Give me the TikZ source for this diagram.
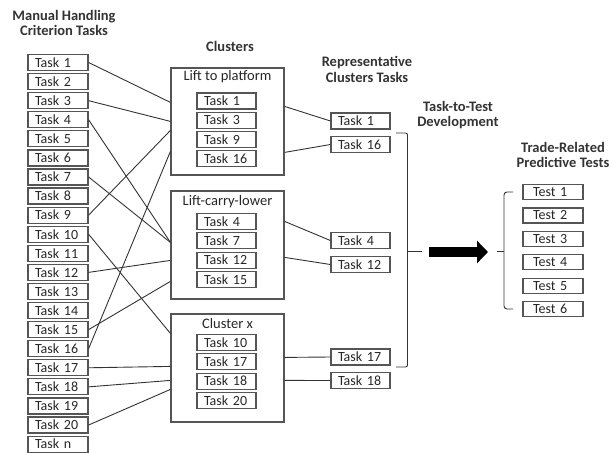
\documentclass[tikz,border=0pt]{standalone}
\usepackage{fontspec}
\setmainfont{Carlito}
\usetikzlibrary{positioning,arrows.meta}
\definecolor{boxgray}{HTML}{555555}
\definecolor{linegray}{HTML}{333333}

\begin{document}
\begin{tikzpicture}[x=1pt,y=-1pt,node distance=19.08pt,on grid,
    tbox/.style={draw=boxgray,line width=1.2pt,minimum height=16pt,text width=46pt,
      inner xsep=7pt,inner ysep=0pt,align=left,text=black!85,font=\fontsize{14}{14}\selectfont},
    clbox/.style={draw=boxgray,line width=1.2pt,minimum width=113pt,inner sep=0pt},
    cltitle/.style={text=black!85,font=\fontsize{14.5}{14.5}\selectfont},
    head/.style={align=center,text=black!80,font=\bfseries\fontsize{14.5}{15.5}\selectfont},
    link/.style={draw=linegray,line width=0.9pt}]
   \useasboundingbox (0,0) rectangle (609,452);

   % headers
   \node[head] (hcrit) at (64,23)   {Manual Handling\\Criterion Tasks};
   \node[head] (hclus) at (230,46)  {Clusters};
   \node[head] (hrep)  at (367,69.5) {Representative\\Clusters Tasks};
   \node[head] (hdev)  at (458,115) {Task-to-Test\\Development};
   \node[head] (htest) at (563,155) {Trade-Related\\Predictive Tests};

   % criterion tasks
   \node[tbox] (c1) at (58,62.5) {Task 1};
   \foreach \i [remember=\i as \j (initially 1)] in {2,...,20}
      \node[tbox] (c\i) [below=of c\j] {Task \i};
   \node[tbox] (cn) [below=of c20] {Task n};

   % clusters
   \node[clbox,minimum height=107pt] (lp) at (227.5,121.5) {};
   \node[cltitle] (lpt) at (227.5,77) {Lift to platform};
   \node[tbox,text width=45pt] (lp1) at (226.5,101) {Task 1};
   \node[tbox,text width=45pt,node distance=19.17pt] (lp3)  [below=of lp1] {Task 3};
   \node[tbox,text width=45pt,node distance=19.17pt] (lp9)  [below=of lp3] {Task 9};
   \node[tbox,text width=45pt,node distance=19.17pt] (lp16) [below=of lp9] {Task 16};

   \node[clbox,minimum height=108pt] (lcl) at (227.5,245) {};
   \node[cltitle] (lclt) at (227.5,202) {Lift-carry-lower};
   \node[tbox,text width=45pt] (lcl4) at (226.5,221.5) {Task 4};
   \node[tbox,text width=45pt,node distance=19.33pt] (lcl7)  [below=of lcl4] {Task 7};
   \node[tbox,text width=45pt,node distance=19.33pt] (lcl12) [below=of lcl7] {Task 12};
   \node[tbox,text width=45pt,node distance=19.33pt] (lcl15) [below=of lcl12] {Task 15};

   \node[clbox,minimum height=108pt] (clx) at (227.5,368) {};
   \node[cltitle] (clxt) at (227.5,324) {Cluster x};
   \node[tbox,text width=45pt] (clx10) at (226.5,342.5) {Task 10};
   \node[tbox,text width=45pt,node distance=19.33pt] (clx17) [below=of clx10] {Task 17};
   \node[tbox,text width=45pt,node distance=19.33pt] (clx18) [below=of clx17] {Task 18};
   \node[tbox,text width=45pt,node distance=19.33pt] (clx20) [below=of clx18] {Task 20};

   % representative tasks
   \node[tbox,text width=45pt] (r1)  at (360.5,121)   {Task 1};
   \node[tbox,text width=45pt] (r16) at (360.5,144.5) {Task 16};
   \node[tbox,text width=45pt] (r4)  at (360.5,240.5) {Task 4};
   \node[tbox,text width=45pt] (r12) at (360.5,264.5) {Task 12};
   \node[tbox,text width=45pt] (r17) at (360.5,357)   {Task 17};
   \node[tbox,text width=45pt] (r18) at (360.5,380.5) {Task 18};

   % predictive tests
   \node[tbox,text width=40pt,inner xsep=10pt,minimum height=15pt] (t1) at (553,192) {Test 1};
   \foreach \i [remember=\i as \j (initially 1)] in {2,...,6}
      \node[tbox,text width=40pt,inner xsep=10pt,minimum height=15pt,node distance=23.4pt]
         (t\i) [below=of t\j] {Test \i};

   % criterion tasks to clusters
   \draw[link] (c1.east)  -- ([yshift=-35pt]lp.north west);
   \draw[link] (c3.east)  -- ([yshift=-54pt]lp.north west);
   \draw[link] (c9.east)  -- ([yshift=-63pt]lp.north west);
   \draw[link] (c16.east) -- ([yshift=-84pt]lp.north west);
   \draw[link] (c4.east)  -- ([yshift=-52pt]lcl.north west);
   \draw[link] (c7.east)  -- ([yshift=-52pt]lcl.north west);
   \draw[link] (c12.east) -- ([yshift=-70pt]lcl.north west);
   \draw[link] (c15.east) -- ([yshift=-91pt]lcl.north west);
   \draw[link] (c10.east) -- ([yshift=-20pt]clx.north west);
   \draw[link] (c17.east) -- ([yshift=-53pt]clx.north west);
   \draw[link] (c18.east) -- ([yshift=-67pt]clx.north west);
   \draw[link] (c20.east) -- ([yshift=-76pt]clx.north west);

   % clusters to representative tasks
   \draw[link] ([yshift=-39pt]lp.north east)  -- (r1.west);
   \draw[link] ([yshift=-85pt]lp.north east)  -- (r16.west);
   \draw[link] ([yshift=-31pt]lcl.north east) -- (r4.west);
   \draw[link] ([yshift=-67pt]lcl.north east) -- (r12.west);
   \draw[link] ([yshift=-44pt]clx.north east) -- (r17.west);
   \draw[link] ([yshift=-67pt]clx.north east) -- (r18.west);

   % brackets and arrow
   \draw[link,rounded corners=2pt] (396,133) -| (407.5,251) |- (396,367);
   \draw[link] (407.5,251) -- (422,251);
   \coordinate (arrs) at (429,252);
   \coordinate (arre) at (488,252);
   \draw[line width=10pt,-{Triangle[length=11pt,width=22pt]}] (arrs) -- (arre);
   \draw[link,rounded corners=3pt] (513,192) -| (504,251) |- (513,309);
   \draw[link] (504,251) -- (497,251);
\end{tikzpicture}
\end{document}
